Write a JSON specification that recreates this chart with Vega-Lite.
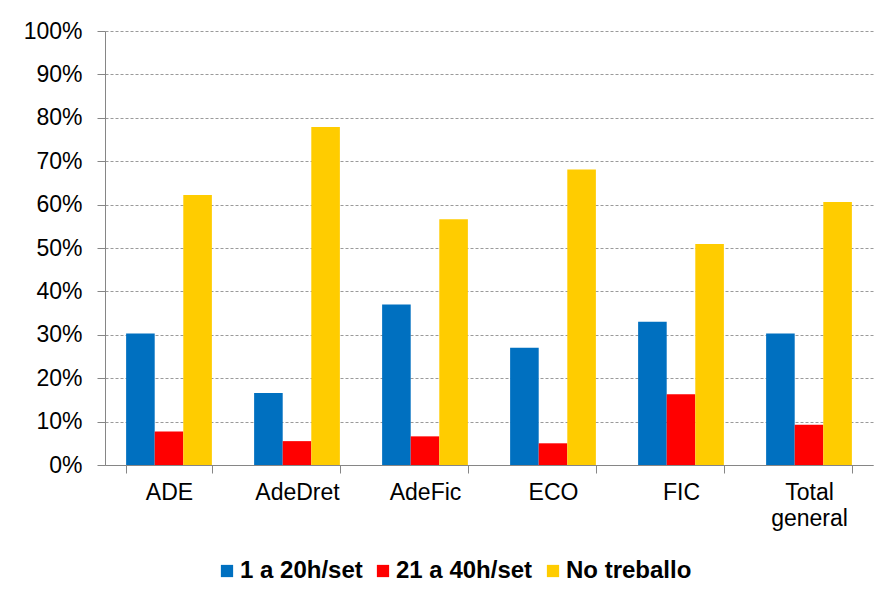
{
  "$schema": "https://vega.github.io/schema/vega-lite/v6.json",
  "width": 768,
  "height": 434,
  "autosize": {"type": "none"},
  "padding": {"left": 105, "top": 31, "right": 10, "bottom": 142},
  "background": "white",
  "data": {
    "values": [
      {"grup": "ADE", "serie": "1 a 20h/set", "valor": 0.303},
      {"grup": "ADE", "serie": "21 a 40h/set", "valor": 0.077},
      {"grup": "ADE", "serie": "No treballo", "valor": 0.622},
      {"grup": "AdeDret", "serie": "1 a 20h/set", "valor": 0.166},
      {"grup": "AdeDret", "serie": "21 a 40h/set", "valor": 0.055},
      {"grup": "AdeDret", "serie": "No treballo", "valor": 0.779},
      {"grup": "AdeFic", "serie": "1 a 20h/set", "valor": 0.370},
      {"grup": "AdeFic", "serie": "21 a 40h/set", "valor": 0.066},
      {"grup": "AdeFic", "serie": "No treballo", "valor": 0.566},
      {"grup": "ECO", "serie": "1 a 20h/set", "valor": 0.270},
      {"grup": "ECO", "serie": "21 a 40h/set", "valor": 0.050},
      {"grup": "ECO", "serie": "No treballo", "valor": 0.681},
      {"grup": "FIC", "serie": "1 a 20h/set", "valor": 0.330},
      {"grup": "FIC", "serie": "21 a 40h/set", "valor": 0.163},
      {"grup": "FIC", "serie": "No treballo", "valor": 0.509},
      {"grup": "Total general", "serie": "1 a 20h/set", "valor": 0.303},
      {"grup": "Total general", "serie": "21 a 40h/set", "valor": 0.093},
      {"grup": "Total general", "serie": "No treballo", "valor": 0.606}
    ]
  },
  "mark": {"type": "bar"},
  "encoding": {
    "x": {
      "field": "grup",
      "type": "nominal",
      "sort": null,
      "scale": {"paddingInner": 0.33, "paddingOuter": 0.165},
      "axis": {
        "title": null,
        "labelAngle": 0,
        "labelFont": "Liberation Sans",
        "labelFontSize": 23,
        "labelColor": "#000000",
        "labelPadding": 8,
        "labelLineHeight": 26,
        "labelExpr": "datum.label == 'Total general' ? ['Total', 'general'] : datum.label",
        "tickBand": "extent",
        "tickSize": 8,
        "tickColor": "#868686",
        "domainColor": "#868686",
        "grid": false
      }
    },
    "xOffset": {"field": "serie", "type": "nominal", "sort": null},
    "y": {
      "field": "valor",
      "type": "quantitative",
      "scale": {"domain": [0, 1], "nice": false},
      "axis": {
        "title": null,
        "format": ".0%",
        "values": [0, 0.1, 0.2, 0.3, 0.4, 0.5, 0.6, 0.7, 0.8, 0.9, 1],
        "labelFont": "Liberation Sans",
        "labelFontSize": 23,
        "labelColor": "#000000",
        "labelPadding": 15,
        "tickSize": 8,
        "tickColor": "#868686",
        "domainColor": "#868686",
        "grid": true,
        "gridColor": "#9a9a9a",
        "gridDash": [3, 2],
        "gridWidth": 1
      }
    },
    "color": {
      "field": "serie",
      "type": "nominal",
      "sort": null,
      "scale": {
        "domain": ["1 a 20h/set", "21 a 40h/set", "No treballo"],
        "range": ["#0070C0", "#FF0000", "#FFCC00"]
      },
      "legend": {
        "title": null,
        "orient": "none",
        "direction": "horizontal",
        "legendX": 110,
        "legendY": 528,
        "symbolType": "square",
        "symbolSize": 150,
        "symbolStrokeWidth": 0,
        "labelFont": "Liberation Sans",
        "labelFontSize": 24,
        "labelFontWeight": "bold",
        "labelColor": "#000000",
        "labelOffset": 1,
        "columnPadding": 8,
        "labelLimit": 300
      }
    }
  },
  "config": {
    "view": {"stroke": null},
    "axis": {"domainWidth": 1, "tickWidth": 1}
  }
}
